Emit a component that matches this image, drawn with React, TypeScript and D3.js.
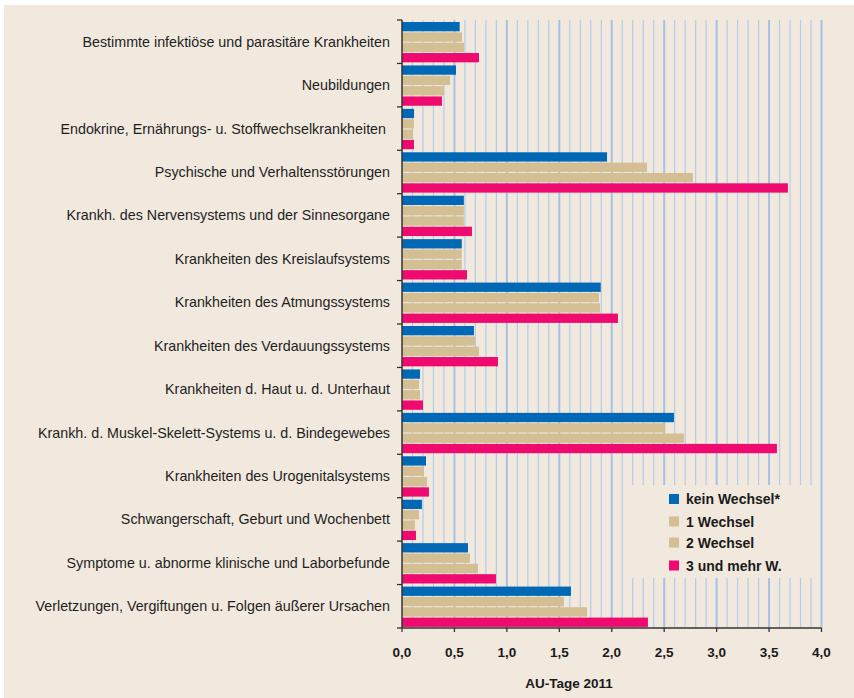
import React from "react";
import * as d3 from "d3";

const categories = [
  "Bestimmte infektiöse und parasitäre Krankheiten",
  "Neubildungen",
  "Endokrine, Ernährungs- u. Stoffwechselkrankheiten ",
  "Psychische und Verhaltensstörungen",
  "Krankh. des Nervensystems und der Sinnesorgane",
  "Krankheiten des Kreislaufsystems",
  "Krankheiten des Atmungssystems",
  "Krankheiten des Verdauungssystems",
  "Krankheiten d. Haut u. d. Unterhaut",
  "Krankh. d. Muskel-Skelett-Systems u. d. Bindegewebes",
  "Krankheiten des Urogenitalsystems",
  "Schwangerschaft, Geburt und Wochenbett",
  "Symptome u. abnorme klinische und Laborbefunde",
  "Verletzungen, Vergiftungen u. Folgen äußerer Ursachen",
];

const seriesNames = ["kein Wechsel*", "1 Wechsel", "2 Wechsel", "3 und mehr W."];
const seriesColors = ["#0068B4", "#D4BF95", "#D4BF95", "#EE0A6E"];

const keinWechsel = [0.55, 0.515, 0.115, 1.955, 0.59, 0.57, 1.895, 0.686, 0.172, 2.593, 0.229, 0.19, 0.629, 1.611];
const einWechsel = [0.572, 0.458, 0.114, 2.336, 0.59, 0.57, 1.878, 0.696, 0.162, 2.51, 0.21, 0.162, 0.648, 1.544];
const zweiWechsel = [0.591, 0.4, 0.105, 2.774, 0.59, 0.57, 1.888, 0.734, 0.172, 2.688, 0.238, 0.124, 0.724, 1.764];
const dreiUndMehr = [0.734, 0.381, 0.114, 3.68, 0.667, 0.62, 2.059, 0.915, 0.2, 3.575, 0.257, 0.133, 0.896, 2.345];

const seriesValues = [keinWechsel, einWechsel, zweiWechsel, dreiUndMehr];

const xTicks = [0, 0.5, 1, 1.5, 2, 2.5, 3, 3.5, 4];
const xTitle = "AU-Tage 2011";

const W = 854;
const H = 698;
const BG = "#F1E9DE";

export default function App() {
  const x = d3.scaleLinear().domain([0, 4]).range([402, 821.5]);
  const y = d3.scaleBand<number>().domain(d3.range(categories.length)).range([20, 628]).padding(0);
  const bw = y.bandwidth();
  const sub = d3.scaleBand<number>().domain([0, 1, 2, 3]).range([2, bw - 1.1]).paddingInner(0.1).paddingOuter(0);

  const grid = d3.range(1, 41).map((i) => i / 10);
  const fmt = (v: number) => v.toFixed(1).replace(".", ",");
  const font = "'Liberation Sans', Arial, sans-serif";

  const legendX = 632;
  const legendY = 485;

  return (
    <svg width={W} height={H} style={{ position: "absolute", left: 0, top: 0 }} fontFamily={font}>
      <rect x={0} y={0} width={W} height={H} fill="#ffffff" />
      <rect x={4} y={5} width={W - 4} height={H - 5} fill={BG} />
      {grid.map((g, i) => {
        const major = Math.abs((g * 10) % 5) < 1e-6;
        return (
          <line
            key={"g" + i}
            x1={x(g)}
            x2={x(g)}
            y1={20}
            y2={628}
            stroke={major ? "#A6C0E6" : "#B4CBEA"}
            strokeWidth={major ? 2 : 1.2}
          />
        );
      })}
      {categories.map((c, ci) => (
        <g key={"c" + ci}>
          {seriesValues.map((vals, si) => (
            <rect
              key={"b" + si}
              x={x(0)}
              y={(y(ci) as number) + (sub(si) as number)}
              width={x(vals[ci]) - x(0)}
              height={sub.bandwidth()}
              fill={seriesColors[si]}
            />
          ))}
          <text
            x={390}
            y={(y(ci) as number) + bw / 2}
            textAnchor="end"
            dominantBaseline="central"
            fontSize={14.3}
            fill="#1e1e1e"
            style={{ whiteSpace: "pre" }}
          >
            {c}
          </text>
        </g>
      ))}
      <rect x={legendX} y={legendY} width={188} height={93} fill={BG} />
      {seriesNames.map((s, i) => {
        const cy = [499, 521.5, 542.5, 565.5][i];
        return (
          <g key={"l" + i}>
            <rect x={669} y={cy - 5} width={10} height={10} fill={seriesColors[i]} />
            <text x={686} y={cy} dominantBaseline="central" fontSize={14} fontWeight="bold" fill="#1a1a1a">
              {s}
            </text>
          </g>
        );
      })}
      <line x1={x(0)} x2={x(0)} y1={20} y2={628} stroke="#333" strokeWidth={1.5} />
      {d3.range(categories.length + 1).map((i) => {
        const yy = 20 + i * bw;
        return <line key={"yt" + i} x1={397} x2={x(0)} y1={yy} y2={yy} stroke="#333" strokeWidth={1.3} />;
      })}
      <line x1={x(0)} x2={x(4)} y1={628} y2={628} stroke="#333" strokeWidth={1.3} />
      {xTicks.map((t, i) => (
        <g key={"xt" + i}>
          <line x1={x(t)} x2={x(t)} y1={628} y2={632} stroke="#333" strokeWidth={1.3} />
          <text
            x={x(t)}
            y={652}
            textAnchor="middle"
            dominantBaseline="central"
            fontSize={13.5}
            fontWeight="bold"
            fill="#1a1a1a"
          >
            {fmt(t)}
          </text>
        </g>
      ))}
      <text x={569} y={683} textAnchor="middle" dominantBaseline="central" fontSize={13.5} fontWeight="bold" fill="#1a1a1a">
        {xTitle}
      </text>
    </svg>
  );
}
